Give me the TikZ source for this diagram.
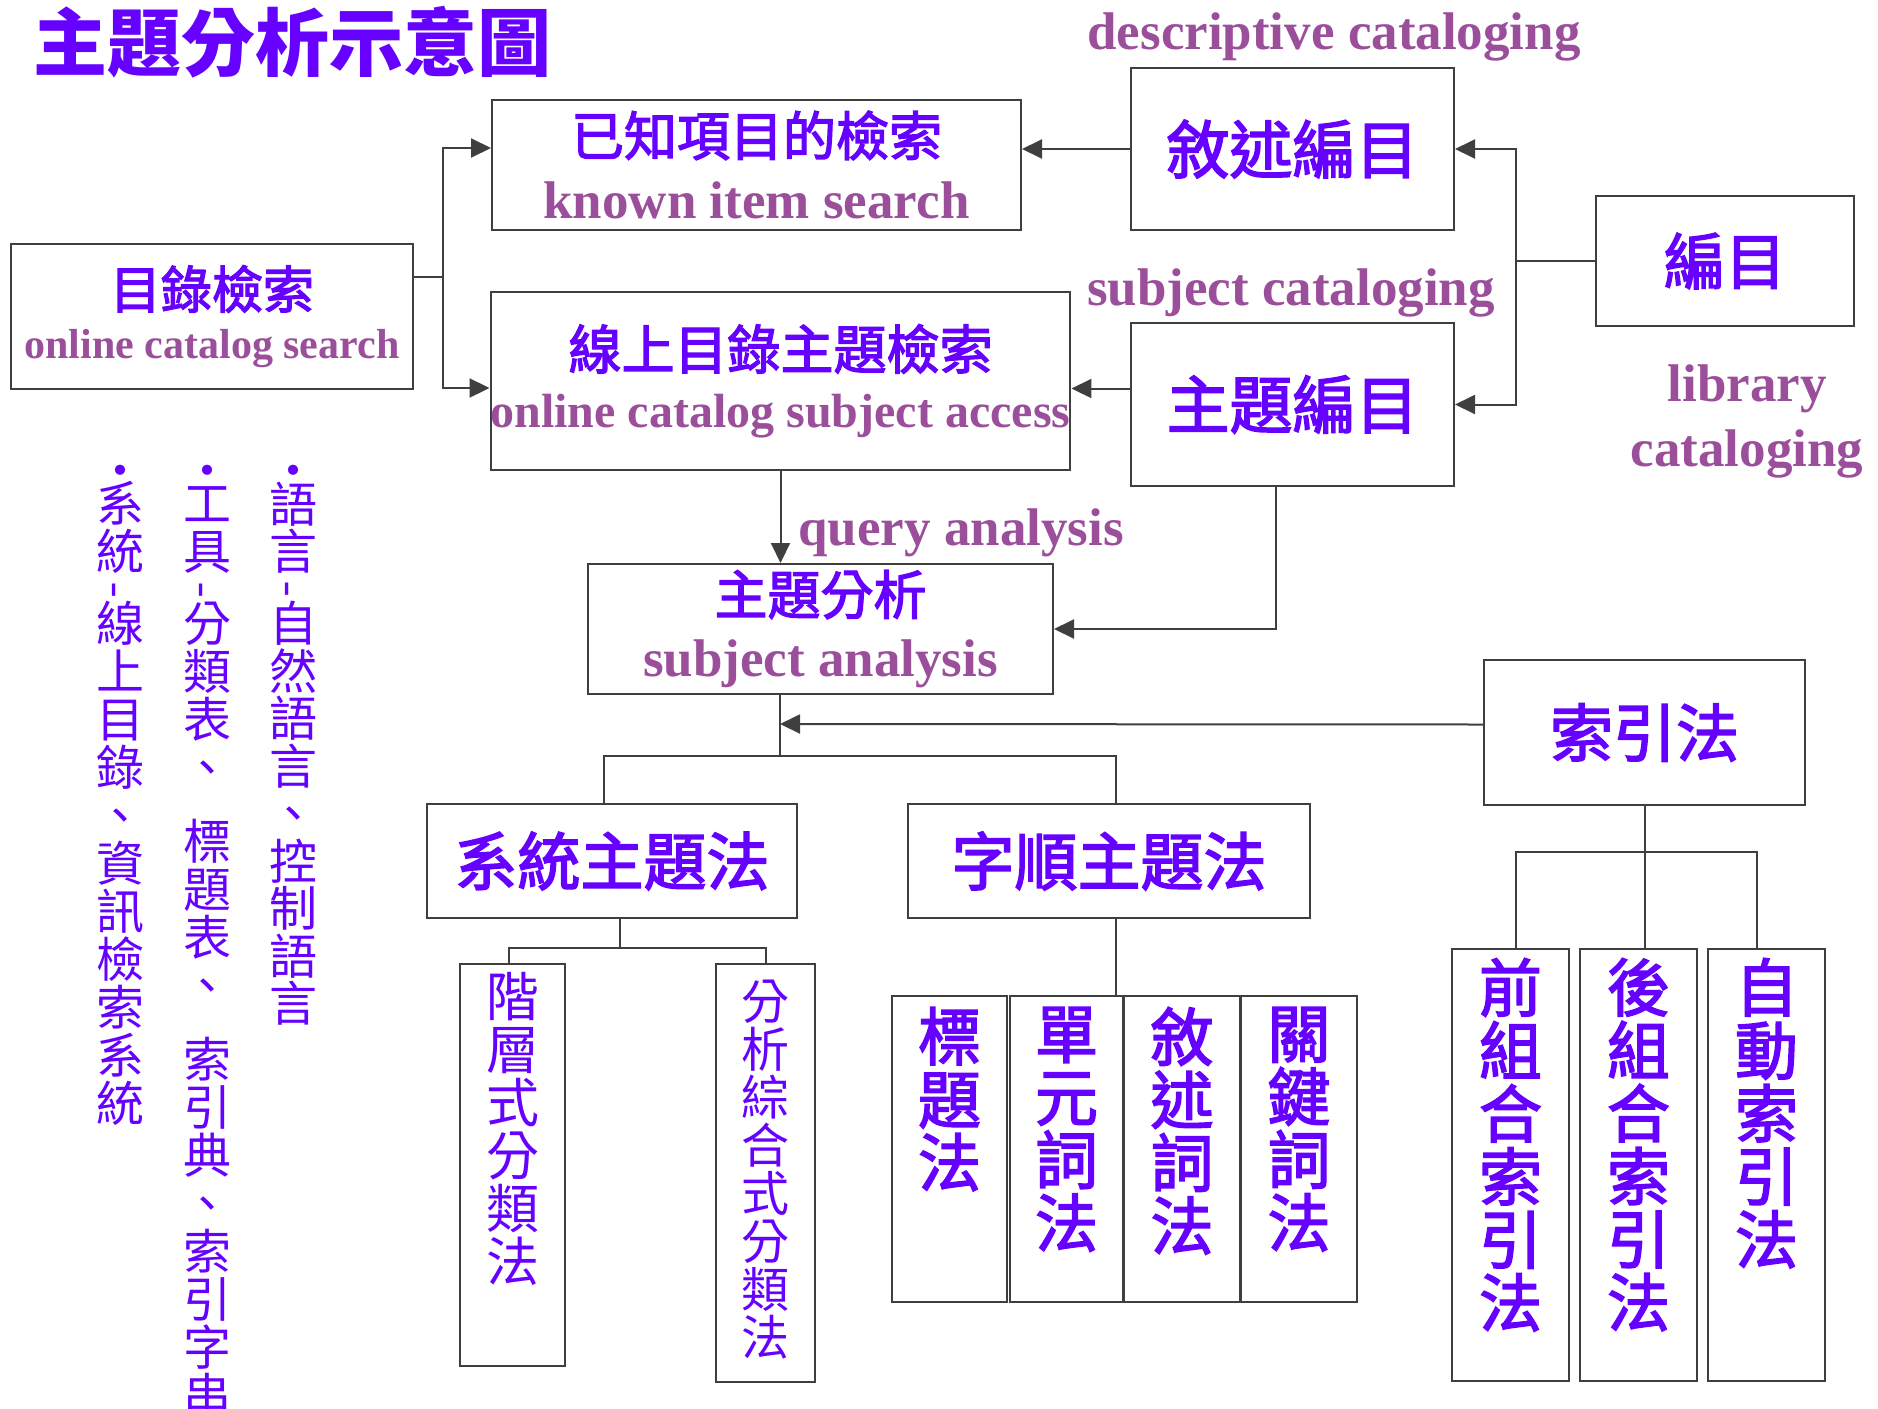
\documentclass[tikz,border=0pt]{standalone}
\usepackage{graphicx}
\usepackage{fontspec}
\setmainfont{Liberation Serif}
\newfontfamily\zhfont{Noto Sans CJK TC}
\newfontfamily\zhmedio[FakeBold=2.5]{Noto Sans CJK TC}
\newfontfamily\enfont{Liberation Serif}
\usetikzlibrary{arrows.meta,positioning}
\definecolor{violeta}{HTML}{6600FF}
\definecolor{malva}{HTML}{9B4F9B}
\definecolor{trazo}{HTML}{3F3F3F}
\newcommand{\ingles}[2]{{\enfont\bfseries\color{malva}\fontsize{#1}{#1}\selectfont #2}}
\newcommand{\guion}{\rotatebox[origin=c]{90}{-}}
\tikzset{
    caja/.style={draw=trazo,line width=2pt,inner sep=0pt,align=center,text=violeta},
    linea/.style={draw=trazo,line width=2pt},
    flecha/.style={linea,-{Triangle[length=20pt,width=19pt]}},
    negrita/.style={text=violeta,inner sep=0pt,align=center,font=\zhmedio\fontsize{#1}{#1}\selectfont},
    fina/.style={text=violeta,inner sep=0pt,align=center,font=\zhfont\fontsize{#1}{#1}\selectfont},
    dos/.style 2 args={font=\zhmedio\fontsize{#1}{#2}\selectfont},
    etiqueta/.style={text=malva,inner sep=0pt,align=center,font=\enfont\bfseries\fontsize{53}{65}\selectfont},
}
\begin{document}
\begin{tikzpicture}[x=1pt,y=-1pt]
    \useasboundingbox (0,0) rectangle (1878,1408);
    % titulo y etiquetas
    \node [negrita=74,font=\zhfont\bfseries\fontsize{74}{74}\selectfont] (titulo) at (292,42) {主題分析示意圖};
    \node [etiqueta,anchor=base] (etdesc) at (1334,49) {descriptive cataloging};
    \node [etiqueta,anchor=base] (etsubj) at (1291,305) {subject cataloging};
    \node [etiqueta,anchor=base] (etquery) at (961,545) {query analysis};
    \node [etiqueta,anchor=north] (etlib) at (1747,365) {library\\cataloging};
    % parte superior
    \node [caja,dos={53}{63},minimum width=529pt,minimum height=130pt] (conocido) at (756.5,165) {已知項目的檢索\\\ingles{53}{known item search}};
    \node [caja,dos={53}{58},minimum width=577pt,minimum height=178pt] (enlinea) at (780.5,381) {線上目錄主題檢索\\\ingles{48}{online catalog subject access}};
    \node [caja,dos={51}{50},minimum width=402pt,minimum height=145pt] (catalogo) at (212,316.5) {目錄檢索\\\ingles{42}{online catalog search}};
    \node [caja,negrita=63,minimum width=323pt,minimum height=162pt] (descriptiva) at (1292.5,149) {敘述編目};
    \node [caja,negrita=63,minimum width=323pt,minimum height=163pt] (tematica) at (1292.5,404.5) {主題編目};
    \node [caja,negrita=61,minimum width=258pt,minimum height=130pt] (catalogacion) at (1725,261) {編目};
    \node [caja,dos={53}{62},minimum width=465pt,minimum height=130pt] (analisis) at (820.5,629) {主題分析\\\ingles{53}{subject analysis}};
    \node [caja,negrita=63,minimum width=321pt,minimum height=145pt] (indizacion) at (1644.5,732.5) {索引法};
    \node [caja,negrita=63,minimum width=370pt,minimum height=114pt] (sistematico) at (612,861) {系統主題法};
    \node [caja,negrita=63,minimum width=402pt,minimum height=114pt] (alfabetico) at (1109,861) {字順主題法};
    % cajas verticales
    \node [caja,minimum width=105pt,minimum height=402pt] (jerarquico) at (512.5,1165) {};
    \node [caja,minimum width=99pt,minimum height=418pt] (facetado) at (765.5,1173) {};
    \node [caja,minimum width=115pt,minimum height=306pt] (encabezado) at (949.5,1149) {};
    \node [caja,minimum width=113pt,minimum height=306pt] (unitermino) at (1066.5,1149) {};
    \node [caja,minimum width=116pt,minimum height=306pt] (descriptor) at (1182,1149) {};
    \node [caja,minimum width=116pt,minimum height=306pt] (clave) at (1299,1149) {};
    \node [caja,minimum width=117pt,minimum height=432pt] (precoord) at (1510.5,1165) {};
    \node [caja,minimum width=117pt,minimum height=432pt] (postcoord) at (1638.5,1165) {};
    \node [caja,minimum width=117pt,minimum height=432pt] (automatico) at (1766.5,1165) {};
    \node [fina=53,anchor=north] (jerarquico-t) at ([yshift=-9pt]jerarquico.north) {階\\層\\式\\分\\類\\法};
    \node [fina=48,anchor=north] (facetado-t) at ([yshift=-17pt]facetado.north) {分\\析\\綜\\合\\式\\分\\類\\法};
    \node [negrita=63,anchor=north] (encabezado-t) at ([yshift=-12pt]encabezado.north) {標\\題\\法};
    \node [negrita=63,anchor=north] (unitermino-t) at ([yshift=-12pt]unitermino.north) {單\\元\\詞\\法};
    \node [negrita=63,anchor=north] (descriptor-t) at ([yshift=-12pt]descriptor.north) {敘\\述\\詞\\法};
    \node [negrita=63,anchor=north] (clave-t) at ([yshift=-12pt]clave.north) {關\\鍵\\詞\\法};
    \node [negrita=63,anchor=north] (precoord-t) at ([yshift=-10pt]precoord.north) {前\\組\\合\\索\\引\\法};
    \node [negrita=63,anchor=north] (postcoord-t) at ([yshift=-10pt]postcoord.north) {後\\組\\合\\索\\引\\法};
    \node [negrita=63,anchor=north] (automatico-t) at ([yshift=-10pt]automatico.north) {自\\動\\索\\引\\法};
    % columnas de la izquierda
    \node [fina=48,anchor=north] (col1) at (120,465) {•\\[-15pt]系\\統\\[-20pt]\guion\\[-4pt]線\\上\\目\\錄\\、\\資\\訊\\檢\\索\\系\\統};
    \node [fina=48,anchor=north] (col2) at (207,465) {•\\[-15pt]工\\具\\[-20pt]\guion\\[-4pt]分\\類\\表\\、\\[26pt]標\\題\\表\\、\\[26pt]索\\引\\典\\、\\索\\引\\字\\串};
    \node [fina=48,anchor=north,font=\zhfont\fontsize{48}{47.5}\selectfont] (col3) at (293,465) {•\\[-14pt]語\\言\\[-20pt]\guion\\[-3pt]自\\然\\語\\言\\、\\控\\制\\語\\言};
    % conectores superiores
    \coordinate (b1) at (443,276.5);
    \draw [linea] ([yshift=40pt]catalogo.east) -- (b1);
    \draw [flecha] (b1) |- ([yshift=17pt]conocido.west);
    \draw [flecha] (b1) |- ([yshift=-7pt]enlinea.west);
    \coordinate (b2) at (1516,261);
    \draw [linea] (catalogacion.west) -- (b2);
    \draw [flecha] (b2) |- (descriptiva.east);
    \draw [flecha] (b2) |- (tematica.east);
    \draw [flecha] (descriptiva.west) -- (descriptiva.west -| conocido.east);
    \coordinate (b3) at ([yshift=16pt]tematica.west);
    \draw [flecha] (b3) -- (b3 -| enlinea.east);
    % analisis
    \draw [flecha] (enlinea.south) -- (enlinea.south |- analisis.north);
    \draw [flecha] ([xshift=-17pt]tematica.south) |- (analisis.east);
    \coordinate (b4) at (780,756);
    \coordinate (b5) at (780,724);
    \draw [linea] (b4 |- analisis.south) -- (b4);
    \draw [flecha] ([yshift=8pt]indizacion.west) -- (b5);
    \draw [linea] ([xshift=-8pt]sistematico.north) |- (b4) -| ([xshift=7pt]alfabetico.north);
    % ramas inferiores
    \coordinate (b6) at (620,948);
    \draw [linea] ([xshift=8pt]sistematico.south) -- (b6);
    \draw [linea] ([xshift=-4pt]jerarquico.north) |- (b6) -| (facetado.north);
    \coordinate (b7) at ([xshift=7pt]alfabetico.south);
    \draw [linea] (b7) -- (b7 |- unitermino.north);
    \coordinate (b8) at (1644,852);
    \draw [linea] (indizacion.south) -- (indizacion.south |- postcoord.north);
    \draw [linea] ([xshift=5pt]precoord.north) |- (b8) -| ([xshift=-10pt]automatico.north);
\end{tikzpicture}
\end{document}
